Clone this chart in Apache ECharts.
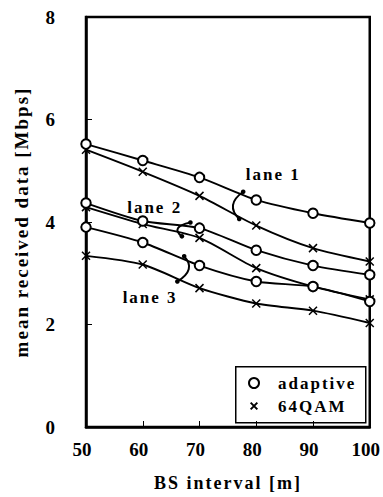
<!DOCTYPE html>
<html><head><meta charset="utf-8">
<script src="https://cdn.jsdelivr.net/npm/echarts@6/dist/echarts.min.js"></script>
<style>
html,body{margin:0;padding:0;background:#fff}
#c{width:383px;height:497px}
#c text{letter-spacing:2px}
</style>
</head><body><div id="c"></div>
<script>
// ---- data ----
const xValues = [50, 60, 70, 80, 90, 100];
const lane1Adaptive = [5.52, 5.20, 4.87, 4.43, 4.17, 3.98];
const lane1QAM      = [5.41, 4.98, 4.51, 3.93, 3.49, 3.23];
const lane2Adaptive = [4.37, 4.02, 3.88, 3.45, 3.15, 2.97];
const lane2QAM      = [4.29, 3.96, 3.69, 3.10, 2.74, 2.49];
const lane3Adaptive = [3.90, 3.60, 3.15, 2.84, 2.74, 2.45];
const lane3QAM      = [3.34, 3.17, 2.71, 2.41, 2.27, 2.03];
const legendNames = ['adaptive', '64QAM'];
const laneLabels = ['lane 1', 'lane 2', 'lane 3'];

// annotation anchors (data coords)
const laneLabelPos = [[83.0, 4.92], [62.1, 4.29], [61.3, 2.52]];
const bracketTop    = [[77.7, 4.59], [68.4, 3.99], [67.3, 3.33]];
const bracketBottom = [[77.0, 4.06], [66.9, 3.72], [66.1, 2.84]];
const bracketBulge  = [[75.9, 4.33], [66.2, 3.88], [68.1, 3.08]];

const FONT = "'Liberation Serif', 'Times New Roman', serif";
const crossPath = 'path://M0,0L10,10M10,0L0,10';
const legendCrossPath = 'path://M-2.5,-2.5M0,0L10,10M10,0L0,10M12.5,12.5';

const chart = echarts.init(document.getElementById('c'), null, {renderer: 'svg'});

function pairs(arr){ return xValues.map((x, i) => [x, arr[i]]); }
function mk(name, arr, isCircle){
  return {
    type: 'line', name: name, data: pairs(arr),
    smooth: 0.25, symbol: isCircle ? 'emptyCircle' : crossPath,
    symbolSize: isCircle ? 9.5 : 8, showAllSymbol: true,
    lineStyle: {color: '#000', width: 1.9},
    itemStyle: {color: '#000', borderColor: '#000', borderWidth: 1.5},
    z: isCircle ? 3 : 2
  };
}

const option = {
  animation: false,
  backgroundColor: '#fff',
  grid: {left: 86, right: 11, top: 17, bottom: 69, show: true, borderColor: '#000', borderWidth: 2.5},
  xAxis: {
    type: 'value', min: 50, max: 100, interval: 10,
    axisLine: {show: true, lineStyle: {color: '#000', width: 2.5}},
    axisTick: {show: true, inside: true, length: 6, lineStyle: {color: '#000', width: 1}},
    splitLine: {show: false},
    axisLabel: {fontSize: 19, fontWeight: 'bold', fontFamily: FONT, color: '#000', margin: 13, padding: [0, 8, 0, 0]},
    name: 'BS interval [m]', nameLocation: 'middle', nameGap: 47,
    nameTextStyle: {fontSize: 18, fontWeight: 'bold', fontFamily: FONT, color: '#000'}
  },
  yAxis: {
    type: 'value', min: 0, max: 8, interval: 2,
    axisLine: {show: true, lineStyle: {color: '#000', width: 2.5}},
    axisTick: {show: true, inside: true, length: 6, lineStyle: {color: '#000', width: 1}},
    splitLine: {show: false},
    axisLabel: {fontSize: 19, fontWeight: 'bold', fontFamily: FONT, color: '#000', margin: 31},
    name: 'mean received data [Mbps]', nameLocation: 'middle', nameGap: 55, nameRotate: 90,
    nameTextStyle: {fontSize: 19, fontWeight: 'bold', fontFamily: FONT, color: '#000'}
  },
  legend: {
    orient: 'vertical', left: 248, top: 374.5, padding: 0,
    itemWidth: 12, itemHeight: 10, itemGap: 6,
    textStyle: {fontSize: 17, fontWeight: 'bold', fontFamily: FONT, color: '#000', padding: [0, 0, 0, 13]},
    data: [
      {name: legendNames[0], icon: 'emptyCircle'},
      {name: legendNames[1], icon: legendCrossPath}
    ],
    selectedMode: false
  },
  series: [
    mk(legendNames[0], lane1Adaptive, true), mk(legendNames[1], lane1QAM, false),
    mk(legendNames[0], lane2Adaptive, true), mk(legendNames[1], lane2QAM, false),
    mk(legendNames[0], lane3Adaptive, true), mk(legendNames[1], lane3QAM, false)
  ]
};
chart.setOption(option);

// annotations placed through the chart's own coordinate system
const px = p => chart.convertToPixel({gridIndex: 0}, p);
const graphics = [{
  type: 'rect', left: 235, top: 366, z: 0,
  shape: {width: 130, height: 56},
  style: {fill: '#fff', stroke: '#000', lineWidth: 1.5}
}];
laneLabels.forEach((t, i) => {
  const p = px(laneLabelPos[i]);
  graphics.push({type: 'text', x: p[0], y: p[1], z: 10,
    style: {text: t, font: "bold 17px " + FONT, fill: '#000', align: 'center', verticalAlign: 'middle'}});
  const a = px(bracketTop[i]), b = px(bracketBottom[i]), m = px(bracketBulge[i]);
  const cx = 2 * m[0] - (a[0] + b[0]) / 2, cy = 2 * m[1] - (a[1] + b[1]) / 2;
  graphics.push({type: 'bezierCurve', z: 10,
    shape: {x1: a[0], y1: a[1], x2: b[0], y2: b[1], cpx1: cx, cpy1: cy},
    style: {stroke: '#000', lineWidth: 2, fill: 'none'}});
  graphics.push({type: 'circle', z: 10, shape: {cx: a[0], cy: a[1], r: 2.3}, style: {fill: '#000'}});
  graphics.push({type: 'circle', z: 10, shape: {cx: b[0], cy: b[1], r: 2.3}, style: {fill: '#000'}});
});
chart.setOption({graphic: graphics});

function tightenNumbers(){
  document.querySelectorAll('#c text').forEach(t => {
    if (/^\d+$/.test(t.textContent.trim())) t.style.letterSpacing = '0px';
  });
}
tightenNumbers();
chart.on('finished', tightenNumbers);
</script>
</body></html>
